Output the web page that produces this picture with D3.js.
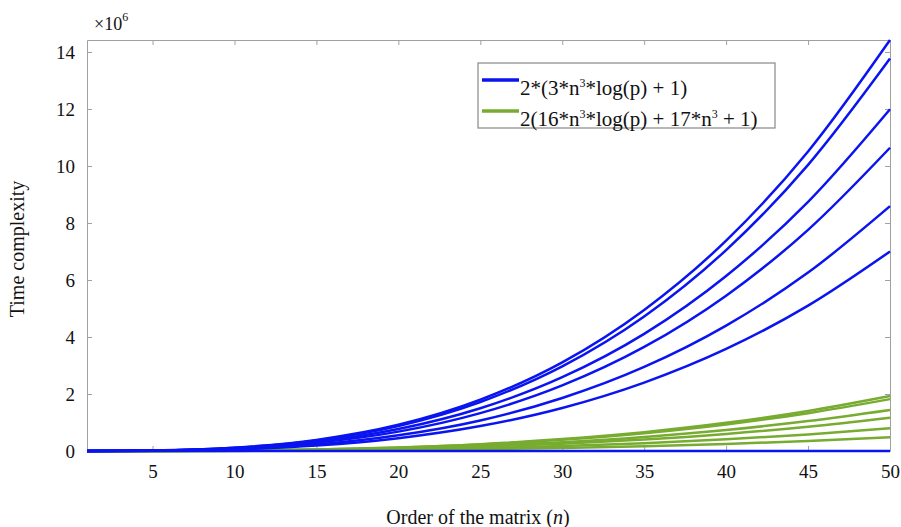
<!DOCTYPE html>
<html>
<head>
<meta charset="utf-8">
<script src="https://cdn.jsdelivr.net/npm/d3@7"></script>
<style>
  body { margin: 0; background: #fff; }
  svg { display: block; font-family: "Liberation Serif", "DejaVu Serif", serif; }
  svg text { font-family: "Liberation Serif", "DejaVu Serif", serif !important; }
</style>
</head>
<body>
<div id="chart"></div>
<script>
// order of the matrix
const orders = [1, 5, 10, 15, 20, 25, 30, 35, 40, 45, 50];

// time complexity (x10^6), first formula, one list per p
const blueSeries = [
  [0, 0.014, 0.115, 0.39, 0.92, 1.80, 3.11, 4.95, 7.38, 10.51, 14.42],
  [0, 0.014, 0.11, 0.37, 0.88, 1.72, 2.97, 4.72, 7.05, 10.04, 13.77],
  [0, 0.012, 0.096, 0.32, 0.77, 1.50, 2.59, 4.11, 6.14, 8.74, 11.99],
  [0, 0.011, 0.085, 0.29, 0.68, 1.33, 2.30, 3.65, 5.45, 7.76, 10.64],
  [0, 0.009, 0.069, 0.23, 0.55, 1.07, 1.86, 2.95, 4.40, 6.26, 8.59],
  [0, 0.007, 0.056, 0.19, 0.45, 0.875, 1.51, 2.40, 3.58, 5.10, 7.00],
  [0, 0, 0, 0, 0, 0, 0, 0, 0, 0, 0]
];

// time complexity (x10^6), second formula
const greenSeries = [
  [0, 0.002, 0.015, 0.052, 0.124, 0.241, 0.417, 0.662, 0.988, 1.407, 1.93],
  [0, 0.002, 0.015, 0.049, 0.116, 0.228, 0.393, 0.624, 0.932, 1.327, 1.82],
  [0, 0.001, 0.012, 0.039, 0.092, 0.18, 0.311, 0.494, 0.737, 1.05, 1.44],
  [0, 0.001, 0.009, 0.032, 0.075, 0.146, 0.253, 0.401, 0.599, 0.853, 1.17],
  [0, 0.001, 0.006, 0.022, 0.051, 0.10, 0.173, 0.274, 0.41, 0.583, 0.80],
  [0, 0, 0.004, 0.013, 0.031, 0.06, 0.104, 0.165, 0.246, 0.35, 0.48]
];

const xTicks = [5, 10, 15, 20, 25, 30, 35, 40, 45, 50];
const yTicks = [0, 2, 4, 6, 8, 10, 12, 14];

const width = 901, height = 527;
const margin = { top: 40, right: 11, bottom: 76, left: 87 };
const blue = "#0a14f0", green = "#77ac30", axisColor = "#a0a0a0";

const svg = d3.select("#chart").append("svg")
  .attr("width", width)
  .attr("height", height);

const x = d3.scaleLinear().domain([1, 50]).range([margin.left, width - margin.right]);
const y = d3.scaleLinear().domain([0, 14.42]).range([height - margin.bottom, margin.top]);

// axes with inward ticks, box on all sides
const styleAxis = g => {
  g.select(".domain").attr("stroke", axisColor);
  g.selectAll(".tick line").attr("stroke", axisColor);
  g.selectAll(".tick text").attr("fill", "#111").attr("font-size", 19);
};

svg.append("g")
  .attr("transform", `translate(0,${y(0)})`)
  .call(d3.axisBottom(x).tickValues(xTicks).tickSizeInner(-5).tickSizeOuter(0).tickPadding(14))
  .call(styleAxis);

svg.append("g")
  .attr("transform", `translate(0,${margin.top})`)
  .call(d3.axisTop(x).tickValues(xTicks).tickSizeInner(-5).tickSizeOuter(0).tickFormat(""))
  .call(styleAxis);

svg.append("g")
  .attr("transform", `translate(${margin.left},0)`)
  .call(d3.axisLeft(y).tickValues(yTicks).tickSizeInner(-5).tickSizeOuter(0).tickPadding(12))
  .call(styleAxis);

svg.append("g")
  .attr("transform", `translate(${width - margin.right},0)`)
  .call(d3.axisRight(y).tickValues(yTicks).tickSizeInner(-5).tickSizeOuter(0).tickFormat(""))
  .call(styleAxis);

// curves
const line = d3.line()
  .x((d, i) => x(orders[i]))
  .y(d => y(d))
  .curve(d3.curveMonotoneX);

svg.append("g").selectAll("path")
  .data(greenSeries)
  .join("path")
  .attr("d", line)
  .attr("fill", "none")
  .attr("stroke", green)
  .attr("stroke-width", 2.5);

svg.append("g").selectAll("path")
  .data(blueSeries)
  .join("path")
  .attr("d", line)
  .attr("fill", "none")
  .attr("stroke", blue)
  .attr("stroke-width", 2.5);

// exponent label
const expo = svg.append("text")
  .attr("x", 94).attr("y", 30)
  .attr("font-size", 18).attr("fill", "#111");
expo.append("tspan").text("×10");
expo.append("tspan").attr("dy", -9).attr("font-size", 12).text("6");

// axis titles
const xl = svg.append("text")
  .attr("x", 478).attr("y", 524)
  .attr("text-anchor", "middle")
  .attr("font-size", 20).attr("fill", "#111");
xl.append("tspan").text("Order of the matrix (");
xl.append("tspan").attr("font-style", "italic").text("n");
xl.append("tspan").text(")");

svg.append("text")
  .attr("transform", "translate(24,249) rotate(-90)")
  .attr("text-anchor", "middle")
  .attr("font-size", 20).attr("fill", "#111")
  .text("Time complexity");

// legend
const legend = svg.append("g").attr("transform", "translate(478,63)");
legend.append("rect")
  .attr("width", 297).attr("height", 65)
  .attr("fill", "#fff").attr("stroke", "#888").attr("stroke-width", 1.2);

const legendItems = [
  { color: blue, parts: [["2*(3*n", 0], ["3", 1], ["*log(p) + 1)", 0]] },
  { color: green, parts: [["2(16*n", 0], ["3", 1], ["*log(p) + 17*n", 0], ["3", 1], [" + 1)", 0]] }
];

legendItems.forEach((item, i) => {
  const ly = 17 + i * 31;
  legend.append("line")
    .attr("x1", 4).attr("x2", 41)
    .attr("y1", ly).attr("y2", ly)
    .attr("stroke", item.color).attr("stroke-width", 3.5);
  const t = legend.append("text")
    .attr("x", 42).attr("y", ly + 7)
    .attr("font-size", 21).attr("fill", "#111");
  item.parts.forEach(([s, sup]) => {
    if (sup) {
      t.append("tspan").attr("dy", -8).attr("font-size", 12).text(s);
    } else {
      t.append("tspan").attr("dy", t.selectAll("tspan").size() ? 8 : 0).text(s);
    }
  });
});
</script>
</body>
</html>
